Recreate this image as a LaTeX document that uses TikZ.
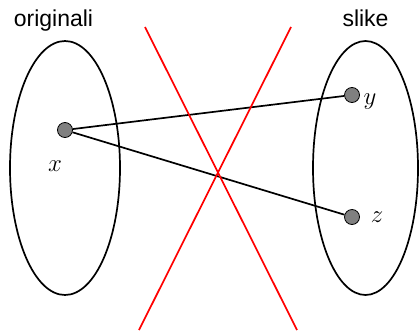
\documentclass[tikz,border=0pt]{standalone}
\usepackage{fontspec}
\setmainfont{Liberation Sans}
\usetikzlibrary{shapes.geometric}
\begin{document}
\begin{tikzpicture}[x=1pt,y=-1pt,
  setshape/.style={draw, line width=1.7pt, ellipse, inner sep=0pt},
  elem/.style={draw, line width=0.8pt, circle, fill=black!50, minimum size=15pt, inner sep=0pt},
  maplink/.style={line width=1.7pt},
  cross/.style={red, line width=1.7pt},
  title/.style={font=\fontsize{23}{27}\selectfont, anchor=base},
  mlabel/.style={font=\fontsize{24}{28}\selectfont}]
\useasboundingbox (0,0) rectangle (419,332);
\node[setshape, minimum width=110pt, minimum height=254pt] (L) at (65,168) {};
\node[setshape, minimum width=105pt, minimum height=254pt] (R) at (365.5,168) {};
\node[title] (tl) at (53.5,26) {originali};
\node[title] (tr) at (365.5,26) {slike};
\coordinate (a1) at (145,27);
\coordinate (a2) at (297,330);
\coordinate (b1) at (291,27);
\coordinate (b2) at (139,330);
\node[elem] (x) at (65,130) {};
\node[elem] (y) at (352,95) {};
\node[elem] (z) at (352,217) {};
\draw[maplink] (x) -- (y);
\draw[maplink] (x) -- (z);
\draw[cross] (a1) -- (a2);
\draw[cross] (b1) -- (b2);
\node[mlabel] (lx) at (55,166) {$x$};
\node[mlabel] (ly) at (370,102) {$y$};
\node[mlabel] (lz) at (377,217) {$z$};
\end{tikzpicture}
\end{document}
